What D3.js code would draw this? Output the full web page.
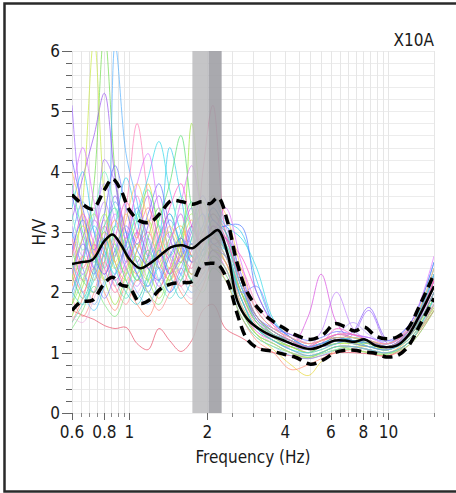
<!DOCTYPE html>
<html>
<head>
<meta charset="utf-8">
<script src="https://cdn.jsdelivr.net/npm/d3@7"></script>
<style>
  body { margin: 0; background: #fff; }
  svg { display: block; }
  text { font-family: 'DejaVu Sans Condensed', 'DejaVu Sans', sans-serif; font-stretch: condensed; fill: #1a1a1a; }
</style>
</head>
<body>
<svg id="chart" width="456" height="493"></svg>
<script>
// station and axis labels
var stationName = "X10A";
var xLabel = "Frequency (Hz)";
var yLabel = "H/V";

var xTickLabels = [0.6, 0.8, 1, 2, 4, 6, 8, 10];
var xMinorTicks = [0.65, 0.7, 0.75, 0.85, 0.9, 0.95, 2.5, 3, 3.5, 4.5, 5, 5.5, 6.5, 7, 7.5, 8.5, 9, 9.5, 15];
var yTickLabels = [0, 1, 2, 3, 4, 5, 6];

// peak frequency band (f0/std .. f0 .. f0*std)
var peakBand = [1.75, 2.02, 2.27];

// average curve and +/- std curves
var statFreq = [0.6, 0.65, 0.72, 0.8, 0.86, 0.93, 1.0, 1.1, 1.2, 1.32, 1.45, 1.6, 1.75, 1.9, 2.05, 2.2,
  2.4, 2.6, 2.85, 3.15, 3.5, 3.9, 4.4, 5.0, 5.6, 6.2, 6.8, 7.4, 8.1, 8.9, 9.8, 10.8, 11.9, 13.2, 15];
var meanHV = [2.47, 2.50, 2.54, 2.85, 2.96, 2.78, 2.55, 2.40, 2.48, 2.62, 2.75, 2.78, 2.73, 2.85, 2.95, 3.03,
  2.62, 1.88, 1.56, 1.40, 1.29, 1.21, 1.12, 1.06, 1.12, 1.20, 1.20, 1.18, 1.22, 1.12, 1.09, 1.12, 1.28, 1.62, 2.10];
var upperHV = [3.62, 3.48, 3.38, 3.70, 3.88, 3.68, 3.36, 3.18, 3.16, 3.32, 3.52, 3.50, 3.46, 3.50, 3.47, 3.57,
  3.15, 2.50, 2.00, 1.73, 1.55, 1.42, 1.29, 1.22, 1.30, 1.48, 1.43, 1.36, 1.42, 1.28, 1.23, 1.26, 1.40, 1.78, 2.30];
var lowerHV = [1.70, 1.84, 1.87, 2.15, 2.25, 2.12, 2.08, 1.82, 1.88, 2.06, 2.14, 2.16, 2.18, 2.45, 2.48, 2.46,
  2.18, 1.66, 1.22, 1.07, 1.03, 0.98, 0.92, 0.81, 0.88, 1.00, 1.04, 1.04, 1.01, 0.99, 0.93, 0.95, 1.10, 1.45, 1.90];

// individual time windows
var winFreq = [0.6, 0.66, 0.73, 0.8, 0.88, 0.97, 1.07, 1.18, 1.3, 1.43, 1.58, 1.74, 1.92, 2.1, 2.35, 2.7,
  3.1, 3.6, 4.2, 4.9, 5.5, 6.3, 7.3, 8.4, 10, 12.2, 15];
var windowsHV = [
  [2.2, 2.9, 3.4, 2.6, 2.1, 2.9, 3.6, 2.7, 2.2, 2.8, 3.3, 2.5, 2.9, 3.4, 3.0, 2.0, 1.5, 1.3, 1.15, 1.0, 1.1, 1.25, 1.2, 1.2, 1.1, 1.4, 2.0],
  [3.0, 2.4, 2.0, 2.7, 3.5, 3.0, 2.3, 2.0, 2.6, 3.2, 2.8, 2.3, 2.6, 3.1, 2.7, 1.8, 1.4, 1.25, 1.1, 1.05, 1.1, 1.15, 1.25, 1.15, 1.1, 1.3, 2.2],
  [1.8, 2.5, 3.8, 6.3, 4.0, 2.6, 2.2, 2.9, 3.4, 2.6, 2.2, 2.9, 3.5, 3.0, 2.6, 2.0, 1.6, 1.3, 1.2, 1.05, 1.1, 1.3, 1.25, 1.15, 1.05, 1.35, 1.9],
  [5.1, 3.2, 2.4, 4.2, 3.8, 2.5, 3.0, 3.6, 2.8, 2.3, 2.9, 3.4, 2.7, 2.9, 3.1, 2.2, 1.5, 1.3, 1.2, 1.1, 1.1, 1.15, 1.3, 1.7, 1.15, 1.45, 2.3],
  [3.4, 4.0, 3.0, 2.4, 3.1, 3.9, 3.2, 2.5, 2.9, 4.4, 3.6, 2.8, 3.1, 3.6, 3.2, 3.0, 2.2, 1.5, 1.25, 1.1, 1.15, 1.2, 1.15, 1.1, 1.15, 1.5, 2.5],
  [2.6, 3.1, 2.7, 2.2, 2.6, 3.3, 2.9, 3.8, 3.0, 2.4, 2.8, 3.2, 2.6, 2.8, 2.5, 1.8, 1.3, 1.05, 0.8, 0.62, 0.85, 1.05, 1.1, 1.1, 1.05, 1.3, 1.8],
  [1.7, 1.62, 1.55, 1.45, 1.4, 1.42, 1.15, 1.05, 1.4, 1.2, 1.02, 1.2, 1.7, 1.8, 1.4, 1.25, 1.1, 1.0, 0.95, 0.9, 0.95, 1.0, 1.0, 0.98, 0.95, 1.2, 1.7],
  [2.4, 2.0, 2.6, 3.1, 2.5, 2.1, 2.7, 3.0, 2.5, 2.2, 2.6, 2.4, 4.0, 5.1, 3.0, 2.2, 1.6, 1.35, 1.2, 1.1, 1.2, 1.25, 1.2, 1.15, 1.1, 1.35, 2.1],
  [2.0, 2.6, 3.2, 2.8, 2.2, 2.5, 3.0, 2.6, 2.1, 2.4, 2.9, 2.6, 2.4, 2.7, 2.4, 1.7, 1.35, 1.2, 1.1, 1.6, 2.3, 1.5, 1.2, 1.2, 1.1, 1.3, 2.0],
  [2.8, 2.3, 2.9, 3.5, 2.9, 2.4, 2.1, 2.6, 3.1, 2.7, 2.3, 2.7, 3.0, 2.7, 2.5, 1.9, 1.4, 1.25, 1.15, 1.1, 1.35, 2.0, 1.4, 1.2, 1.15, 1.4, 2.2],
  [3.6, 2.9, 2.3, 2.9, 3.6, 2.8, 2.3, 2.1, 2.7, 2.3, 2.6, 3.1, 2.6, 2.9, 2.7, 2.0, 1.5, 1.3, 1.2, 1.05, 1.1, 1.2, 1.35, 1.75, 1.2, 1.4, 2.3],
  [2.3, 1.9, 2.4, 3.0, 2.7, 2.2, 1.9, 2.3, 2.9, 3.3, 2.7, 2.2, 2.5, 3.0, 2.8, 2.1, 1.55, 1.35, 1.2, 1.1, 1.15, 1.2, 1.2, 1.15, 1.1, 1.3, 2.0],
  [1.6, 2.1, 2.6, 2.2, 1.8, 2.3, 2.8, 2.4, 2.0, 2.3, 2.7, 4.8, 3.2, 2.7, 2.6, 2.0, 1.5, 1.25, 1.1, 1.0, 1.1, 1.15, 1.15, 1.1, 1.05, 1.25, 1.9],
  [2.9, 3.5, 3.0, 2.6, 6.1, 4.3, 3.5, 2.6, 2.9, 3.3, 2.8, 2.5, 2.8, 3.2, 2.9, 2.1, 1.6, 1.35, 1.2, 1.1, 1.15, 1.2, 1.25, 1.2, 1.1, 1.35, 2.2],
  [2.1, 2.6, 2.2, 2.7, 3.2, 2.6, 2.3, 2.7, 2.4, 2.9, 3.1, 2.6, 2.4, 2.6, 2.4, 1.7, 1.3, 1.15, 1.0, 0.92, 1.0, 1.1, 1.1, 1.05, 1.0, 1.25, 1.75],
  [3.2, 3.9, 4.6, 5.3, 3.9, 3.0, 2.5, 3.1, 3.6, 2.9, 2.5, 3.0, 3.3, 2.8, 2.9, 2.1, 1.55, 1.3, 1.15, 1.05, 1.1, 1.2, 1.2, 1.15, 1.1, 1.35, 2.1],
  [2.5, 2.2, 2.7, 3.2, 2.6, 3.4, 4.8, 3.6, 2.7, 2.3, 2.7, 3.1, 2.8, 3.0, 2.6, 2.4, 1.8, 1.45, 1.3, 1.15, 1.2, 1.3, 1.25, 1.2, 1.15, 1.4, 2.2],
  [2.0, 2.5, 3.1, 2.7, 2.3, 2.8, 3.3, 3.9, 4.5, 3.7, 3.0, 2.6, 3.0, 3.4, 3.1, 2.9, 2.4, 1.55, 1.25, 1.1, 1.15, 1.2, 1.2, 1.15, 1.1, 1.35, 2.3],
  [2.7, 2.2, 2.0, 2.5, 3.1, 2.7, 2.2, 2.6, 3.2, 3.8, 4.6, 3.4, 2.7, 2.9, 2.6, 1.9, 1.4, 1.2, 1.1, 1.0, 1.1, 1.2, 1.2, 1.1, 1.05, 1.3, 2.0],
  [2.2, 3.5, 6.2, 3.6, 2.5, 2.2, 2.7, 3.2, 2.6, 2.2, 2.5, 2.8, 2.5, 2.7, 2.5, 1.8, 1.4, 1.2, 1.1, 1.0, 1.05, 1.15, 1.15, 1.1, 1.05, 1.3, 1.9],
  [1.9, 2.3, 1.8, 2.2, 2.8, 2.4, 2.0, 1.8, 2.2, 2.6, 2.3, 2.0, 2.2, 2.5, 2.3, 1.6, 1.25, 1.1, 0.95, 0.9, 0.95, 1.05, 1.1, 1.05, 1.0, 1.2, 1.8],
  [1.5, 1.9, 2.4, 2.0, 1.7, 2.1, 1.8, 1.6, 2.0, 2.4, 2.0, 1.8, 2.1, 2.5, 2.2, 1.6, 1.2, 1.0, 0.72, 0.8, 0.9, 1.0, 1.05, 1.0, 0.95, 1.15, 1.7],
  [4.2, 3.4, 2.7, 3.3, 4.1, 3.4, 2.8, 3.3, 3.8, 3.1, 2.6, 3.1, 3.6, 3.2, 3.0, 2.3, 1.6, 1.4, 1.3, 1.2, 1.25, 1.35, 1.3, 1.25, 1.2, 1.5, 2.5],
  [3.8, 3.0, 2.5, 3.1, 3.4, 2.7, 3.2, 3.7, 3.1, 2.6, 3.0, 3.5, 3.0, 3.3, 3.0, 2.2, 1.6, 1.35, 1.2, 1.1, 1.15, 1.25, 1.2, 1.2, 1.1, 1.4, 2.4],
  [2.6, 3.3, 2.8, 2.3, 2.9, 3.5, 3.0, 2.4, 2.8, 3.4, 3.8, 3.1, 2.8, 3.1, 2.9, 2.6, 2.0, 1.45, 1.2, 1.1, 1.15, 1.4, 1.3, 1.2, 1.1, 1.35, 2.2],
  [1.5, 1.8, 2.2, 2.6, 2.2, 1.9, 2.3, 2.7, 2.2, 1.9, 2.2, 2.6, 2.3, 2.6, 2.4, 1.7, 1.3, 1.15, 1.0, 0.95, 1.0, 1.1, 1.1, 1.05, 1.0, 1.2, 1.8],
  [3.1, 2.6, 3.2, 3.8, 3.2, 2.7, 2.4, 2.9, 2.5, 2.8, 3.3, 2.8, 3.1, 3.5, 3.1, 2.3, 1.7, 1.4, 1.25, 1.15, 1.2, 1.3, 1.5, 1.3, 1.15, 1.45, 2.4],
  [2.4, 2.9, 3.3, 2.8, 2.4, 2.9, 2.5, 2.2, 2.7, 3.0, 2.6, 2.3, 2.6, 2.9, 2.7, 2.0, 1.5, 1.3, 1.15, 1.05, 1.1, 1.2, 1.15, 1.15, 1.05, 1.3, 2.0],
  [1.9, 1.6, 2.0, 2.5, 2.1, 1.8, 2.2, 2.0, 1.7, 2.0, 2.4, 2.1, 2.3, 2.8, 2.5, 1.9, 1.45, 1.2, 1.05, 0.95, 1.0, 1.1, 1.1, 1.05, 1.0, 1.2, 1.8],
  [2.7, 3.2, 2.6, 2.3, 2.7, 3.1, 2.7, 2.4, 2.2, 2.6, 2.9, 2.5, 2.7, 3.0, 3.1, 3.1, 2.0, 1.5, 1.25, 1.1, 1.15, 1.25, 1.2, 1.2, 1.1, 1.4, 2.3],
  [1.4, 1.7, 2.1, 1.8, 1.6, 2.0, 2.4, 2.0, 1.8, 2.2, 2.5, 2.2, 2.0, 2.4, 2.2, 1.6, 1.25, 1.1, 1.0, 0.92, 0.98, 1.05, 1.05, 1.0, 0.98, 1.15, 1.7],
  [3.6, 4.4, 3.5, 2.8, 3.3, 2.9, 3.8, 4.3, 3.4, 2.9, 3.5, 4.1, 3.3, 3.0, 3.4, 2.5, 1.7, 1.4, 1.25, 1.15, 1.2, 1.3, 1.3, 1.25, 1.15, 1.5, 2.6],
  [2.5, 2.0, 1.7, 2.1, 2.6, 3.0, 2.5, 2.1, 2.4, 2.0, 2.3, 2.9, 3.3, 2.8, 2.7, 1.9, 1.4, 1.2, 1.05, 1.0, 1.05, 1.15, 1.2, 1.1, 1.05, 1.25, 1.9],
  [1.6, 1.5, 1.9, 2.4, 2.9, 2.3, 2.0, 2.5, 3.0, 2.6, 2.1, 1.9, 2.4, 2.9, 2.6, 1.8, 1.35, 1.15, 1.0, 0.95, 1.0, 1.1, 1.1, 1.05, 1.0, 1.2, 1.85],
  [3.3, 2.7, 3.3, 4.0, 3.4, 2.8, 3.3, 2.8, 2.4, 2.9, 3.6, 3.0, 2.6, 3.0, 2.8, 2.1, 1.5, 1.3, 1.2, 1.1, 1.15, 1.2, 1.25, 1.2, 1.1, 1.4, 2.3],
  [2.9, 2.4, 2.8, 2.4, 2.0, 2.4, 2.9, 3.4, 2.9, 2.5, 2.1, 2.5, 3.0, 3.3, 2.9, 2.2, 1.6, 1.35, 1.2, 1.1, 1.2, 1.3, 1.3, 1.2, 1.1, 1.4, 2.2],
  [1.8, 2.2, 2.8, 3.3, 2.8, 2.3, 2.6, 2.2, 1.9, 2.3, 2.9, 3.3, 2.9, 2.5, 2.3, 1.7, 1.3, 1.15, 1.0, 0.92, 1.0, 1.1, 1.05, 1.0, 0.98, 1.2, 1.75],
  [2.3, 2.8, 2.4, 1.9, 2.3, 2.8, 3.4, 2.9, 2.4, 2.0, 2.4, 2.8, 2.4, 2.7, 2.6, 2.0, 2.1, 1.5, 1.25, 1.1, 1.15, 1.2, 1.15, 1.1, 1.05, 1.3, 2.0],
  [4.0, 3.3, 2.6, 3.0, 2.5, 3.2, 3.8, 3.2, 2.6, 3.1, 2.7, 2.3, 2.8, 3.6, 3.3, 2.4, 1.7, 1.4, 1.25, 1.15, 1.2, 1.25, 1.25, 1.2, 1.15, 1.45, 2.4],
  [2.0, 1.8, 2.3, 2.9, 2.4, 2.0, 1.8, 2.2, 2.7, 2.3, 1.9, 2.2, 2.7, 3.0, 2.7, 1.9, 1.4, 1.2, 1.05, 0.95, 1.0, 1.1, 1.1, 1.05, 1.0, 1.2, 1.9]
];
var windowColors = ["#ff6fcf", "#5b8cff", "#6fdc4a", "#a066ff", "#33ccee", "#e8d83a", "#e8506a", "#ff5fa0",
  "#d94fe0", "#c080ff", "#8a5cff", "#33cfa8", "#9be83a", "#55b0ff", "#ffa640", "#9a55f0",
  "#ff7fb8", "#2fd8e8", "#55e070", "#c8e840", "#80b8ff", "#ff8a70", "#6a6cff", "#40e89a",
  "#ff55c8", "#60e0d0", "#b89cff", "#b4e050", "#ff9090", "#4878ff",
  "#7ee87e", "#e070ff", "#50c8ff", "#f0b0e0", "#70f0c0", "#ff70a0", "#a0f060", "#8080ff", "#ffc060", "#40d0d0"];

var svg = d3.select("#chart");

var x = d3.scaleLog().domain([0.6, 15]).range([72, 434]);
var y = d3.scaleLinear().domain([0, 6]).range([413, 51]);

// frame
svg.append("rect")
  .attr("x", 4.5).attr("y", 3.5)
  .attr("width", 470).attr("height", 488)
  .attr("fill", "none")
  .attr("stroke", "#2a2a2a")
  .attr("stroke-width", 2.5);

svg.append("clipPath").attr("id", "plotClip")
  .append("rect")
  .attr("x", x.range()[0]).attr("y", y.range()[1])
  .attr("width", x.range()[1] - x.range()[0])
  .attr("height", y.range()[0] - y.range()[1]);

// grid
var yMinor = d3.range(0, 6.001, 0.2);
var xGrid = xTickLabels.concat(xMinorTicks);

svg.append("g").selectAll("line").data(yMinor).join("line")
  .attr("x1", x.range()[0]).attr("x2", x.range()[1])
  .attr("y1", function (d) { return Math.round(y(d)) + 0.5; })
  .attr("y2", function (d) { return Math.round(y(d)) + 0.5; })
  .attr("stroke", "#ececec").attr("stroke-width", 1);

svg.append("g").selectAll("line").data(xGrid).join("line")
  .attr("x1", function (d) { return Math.round(x(d)) + 0.5; })
  .attr("x2", function (d) { return Math.round(x(d)) + 0.5; })
  .attr("y1", y.range()[0]).attr("y2", y.range()[1])
  .attr("stroke", "#e6e6e6").attr("stroke-width", 1);

var plot = svg.append("g").attr("clip-path", "url(#plotClip)");

var winLine = d3.line()
  .x(function (d, i) { return x(winFreq[i]); })
  .y(function (d) { return y(d); })
  .curve(d3.curveCatmullRom.alpha(0.5));

plot.append("g").selectAll("path").data(windowsHV).join("path")
  .attr("d", winLine)
  .attr("fill", "none")
  .attr("stroke", function (d, i) { return windowColors[i % windowColors.length]; })
  .attr("stroke-width", 1)
  .attr("opacity", 0.7);

// peak band
plot.append("rect")
  .attr("x", x(peakBand[0])).attr("y", y(6))
  .attr("width", x(peakBand[1]) - x(peakBand[0]))
  .attr("height", y(0) - y(6))
  .attr("fill", "#bdbdbf").attr("opacity", 0.88);
plot.append("rect")
  .attr("x", x(peakBand[1])).attr("y", y(6))
  .attr("width", x(peakBand[2]) - x(peakBand[1]))
  .attr("height", y(0) - y(6))
  .attr("fill", "#9d9da3").attr("opacity", 0.88);

var statLine = d3.line()
  .x(function (d, i) { return x(statFreq[i]); })
  .y(function (d) { return y(d); })
  .curve(d3.curveCatmullRom.alpha(0.5));

plot.append("path").datum(upperHV)
  .attr("d", statLine).attr("fill", "none")
  .attr("stroke", "#000").attr("stroke-width", 3.5)
  .attr("stroke-dasharray", "10,6");
plot.append("path").datum(lowerHV)
  .attr("d", statLine).attr("fill", "none")
  .attr("stroke", "#000").attr("stroke-width", 3.5)
  .attr("stroke-dasharray", "10,6");
plot.append("path").datum(meanHV)
  .attr("d", statLine).attr("fill", "none")
  .attr("stroke", "#000").attr("stroke-width", 2.5);

// y ticks
svg.append("g").selectAll("line").data(yMinor).join("line")
  .attr("x1", function (d) { return Math.abs(d - Math.round(d)) < 1e-6 ? 62 : 66; })
  .attr("x2", 72)
  .attr("y1", function (d) { return Math.round(y(d)) + 0.5; })
  .attr("y2", function (d) { return Math.round(y(d)) + 0.5; })
  .attr("stroke", "#666").attr("stroke-width", 1);

svg.append("g").selectAll("text").data(yTickLabels).join("text")
  .attr("x", 60)
  .attr("y", function (d) { return y(d) + 6; })
  .attr("text-anchor", "end")
  .style("font-size", "17px")
  .text(function (d) { return d; });

// x ticks
svg.append("g").selectAll("line").data(xTickLabels).join("line")
  .attr("x1", function (d) { return Math.round(x(d)) + 0.5; })
  .attr("x2", function (d) { return Math.round(x(d)) + 0.5; })
  .attr("y1", 413).attr("y2", 420)
  .attr("stroke", "#666").attr("stroke-width", 1);
svg.append("g").selectAll("line").data(xMinorTicks).join("line")
  .attr("x1", function (d) { return Math.round(x(d)) + 0.5; })
  .attr("x2", function (d) { return Math.round(x(d)) + 0.5; })
  .attr("y1", 413).attr("y2", 417)
  .attr("stroke", "#888").attr("stroke-width", 1);

svg.append("g").selectAll("text").data(xTickLabels).join("text")
  .attr("x", function (d) { return x(d); })
  .attr("y", 438)
  .attr("text-anchor", "middle")
  .style("font-size", "17px")
  .text(function (d) { return d; });

// axis titles
svg.append("text")
  .attr("x", 253).attr("y", 463)
  .attr("text-anchor", "middle")
  .style("font-size", "17px")
  .text(xLabel);

svg.append("text")
  .attr("transform", "translate(45,232) rotate(-90)")
  .attr("text-anchor", "middle")
  .style("font-size", "17px")
  .text(yLabel);

svg.append("text")
  .attr("x", 434).attr("y", 46)
  .attr("text-anchor", "end")
  .style("font-size", "17px")
  .text(stationName);
</script>
</body>
</html>
